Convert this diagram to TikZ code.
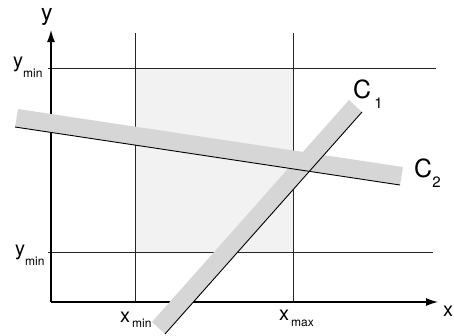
\documentclass[tikz,border=0pt]{standalone}
\usepackage{fontspec}
\setmainfont{TeX Gyre Heros}
\usetikzlibrary{arrows.meta}
\definecolor{wingray}{HTML}{F2F2F2}
\definecolor{bandgray}{HTML}{D6D6D6}
\newcommand{\lowsub}[2]{\raisebox{-#1}{\fontsize{12}{12}\selectfont #2}}

\begin{document}
\begin{tikzpicture}[x=1pt,y=-1pt,
  grid/.style={black!85,line width=1pt},
  axis/.style={black,line width=1.2pt,-{Latex[length=12pt,width=8pt]}},
  edge/.style={black,line width=0.9pt},
  lbl/.style={anchor=base west,inner sep=0pt,font=\fontsize{20}{20}\selectfont}]
  \useasboundingbox (0,0) rectangle (454,335);
  \coordinate (O) at (51,302);
  \coordinate (ytip) at (51,30);
  \coordinate (xtip) at (438,302);
  \coordinate (xminT) at (135,33);
  \coordinate (xminB) at (135,302);
  \coordinate (xmaxT) at (293,33);
  \coordinate (xmaxB) at (293,302);
  \coordinate (ytopL) at (48,68);
  \coordinate (ytopR) at (436,68);
  \coordinate (ybotL) at (48,252);
  \coordinate (ybotR) at (433,252);
  % window
  \fill[wingray] (xminT |- ytopL) rectangle (xmaxB |- ybotL);
  \draw[grid] (xminT) -- (xminB);
  \draw[grid] (xmaxT) -- (xmaxB);
  \draw[grid] (ytopL) -- (ytopR);
  \draw[grid] (ybotL) -- (ybotR);
  \draw[axis] (O) -- (ytip);
  \draw[axis] (O) -- (xtip);
  % the two lines with their bands
  \coordinate (c1a) at (165,334);
  \coordinate (c1b) at (362,112);
  \coordinate (c1c) at (349,100);
  \coordinate (c1d) at (152,322);
  \coordinate (c2a) at (15,127);
  \coordinate (c2b) at (400,185);
  \coordinate (c2c) at (403,167);
  \coordinate (c2d) at (18,109);
  \fill[bandgray] (c1a) -- (c1b) -- (c1c) -- (c1d) -- cycle;
  \fill[bandgray] (c2a) -- (c2b) -- (c2c) -- (c2d) -- cycle;
  \draw[edge] (c1a) -- (c1b);
  \draw[edge] (c2a) -- (c2b);
  % labels
  \node[lbl,font=\fontsize{23}{23}\selectfont] (ylab) at (41,20) {y};
  \node[lbl] (xlab) at (443,316) {x};
  \node[lbl] (ytoplab) at (13,67) {y\lowsub{10pt}{min}};
  \node[lbl] (ybotlab) at (15,255) {y\lowsub{10pt}{min}};
  \node[lbl] (xminlab) at (120,322) {x\hspace{2pt}\lowsub{5pt}{min}};
  \node[lbl] (xmaxlab) at (279,320) {x\hspace{2pt}\lowsub{6pt}{max}};
  \node[lbl,font=\fontsize{25}{25}\selectfont] (c1lab) at (353,98)
    {C\hspace{3pt}\raisebox{-10pt}{\fontsize{15}{15}\selectfont 1}};
  \node[lbl,font=\fontsize{25}{25}\selectfont] (c2lab) at (414,177)
    {C\raisebox{-10pt}{\fontsize{15}{15}\selectfont 2}};
\end{tikzpicture}
\end{document}
